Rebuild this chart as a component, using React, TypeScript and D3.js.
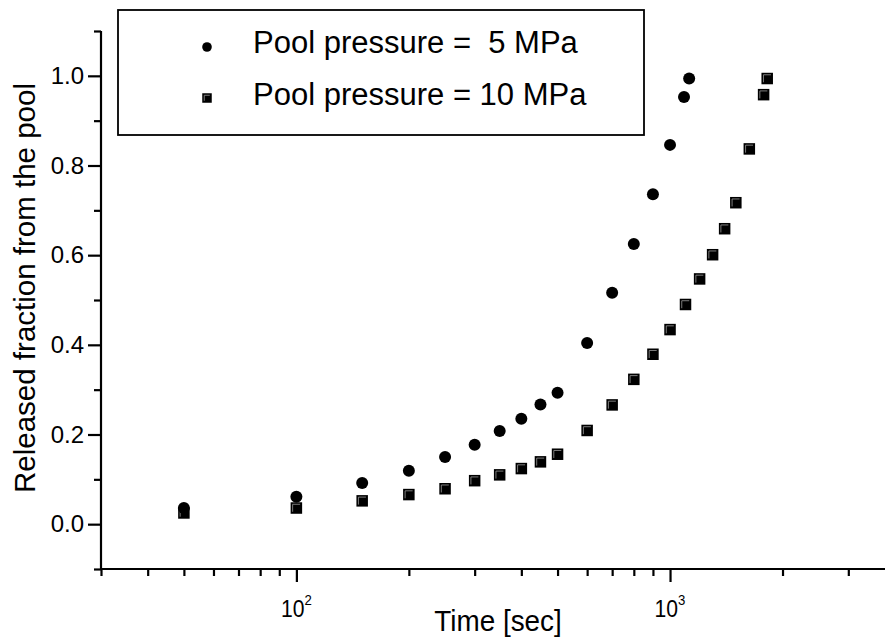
import React, { useEffect, useRef } from 'react';
import * as d3 from 'd3';

// Pool pressure = 5 MPa
const times5 = [50, 100, 150, 200, 250, 300, 350, 400, 450, 500, 600, 700, 800, 900, 1000, 1090, 1125];
const frac5 = [0.036, 0.061, 0.092, 0.119, 0.15, 0.177, 0.208, 0.235, 0.267, 0.293, 0.404, 0.516, 0.625, 0.736, 0.846, 0.953, 0.994];

// Pool pressure = 10 MPa
const times10 = [50, 100, 150, 200, 250, 300, 350, 400, 450, 500, 600, 700, 800, 900, 1000, 1100, 1200, 1300, 1400, 1500, 1630, 1780, 1820];
const frac10 = [0.025, 0.036, 0.052, 0.066, 0.079, 0.097, 0.11, 0.124, 0.139, 0.156, 0.209, 0.266, 0.323, 0.379, 0.434, 0.49, 0.547, 0.601, 0.659, 0.717, 0.837, 0.958, 0.994];

const legendLabels = ['Pool pressure =  5 MPa', 'Pool pressure = 10 MPa'];
const xMajor = [100, 1000];
const xMajorExp = ['2', '3'];
const xMinor = [30, 40, 50, 60, 70, 80, 90, 200, 300, 400, 500, 600, 700, 800, 900, 2000, 3000, 4000];
const yMajor = [0, 0.2, 0.4, 0.6, 0.8, 1.0];
const yMinor = [-0.1, 0.1, 0.3, 0.5, 0.7, 0.9, 1.1];

const SANS = '"Liberation Sans", Arial, sans-serif';

function App() {
  const svgRef = useRef<SVGSVGElement>(null);

  useEffect(() => {
    const svg = d3.select(svgRef.current);
    svg.selectAll('*').remove();

    const width = 885;
    const height = 640;
    svg.attr('width', width).attr('height', height);

    const x = d3.scaleLog().domain([30, 4000]).range([101, 895]);
    const y = d3.scaleLinear().domain([-0.1, 1.1]).range([569, 31]);

    const axisX0 = x.range()[0];
    const axisY0 = y.range()[0];

    // x axis
    const gx = svg.append('g').attr('transform', `translate(0,${axisY0})`);
    gx.call(d3.axisBottom(x).tickValues(xMinor).tickSize(7).tickSizeOuter(0).tickFormat(() => ''));
    gx.select('.domain').remove();
    const gx2 = svg.append('g').attr('transform', `translate(0,${axisY0})`);
    gx2.call(d3.axisBottom(x).tickValues(xMajor).tickSize(13).tickSizeOuter(0).tickFormat(() => ''));
    gx2.select('.domain').remove();

    svg.append('line')
      .attr('x1', axisX0 - 1).attr('x2', width)
      .attr('y1', axisY0).attr('y2', axisY0)
      .attr('stroke', '#000').attr('stroke-width', 2.2);

    xMajor.forEach((v, i) => {
      const t = svg.append('text')
        .attr('x', x(v))
        .attr('y', 617)
        .attr('text-anchor', 'middle')
        .style('font-family', SANS)
        .style('font-size', '24px')
        .attr('transform', `translate(${x(v)},0) scale(0.88,1) translate(${-x(v)},0)`);
      t.append('tspan').text('10');
      t.append('tspan').attr('dy', -12).style('font-size', '15px').text(xMajorExp[i]);
    });

    svg.append('text')
      .attr('x', 498)
      .attr('y', 631)
      .attr('text-anchor', 'middle')
      .style('font-family', SANS)
      .style('font-size', '30px')
      .attr('transform', 'translate(498,0) scale(0.93,1) translate(-498,0)')
      .text('Time [sec]');

    // y axis
    const gy = svg.append('g').attr('transform', `translate(${axisX0},0)`);
    gy.call(d3.axisLeft(y).tickValues(yMinor).tickSize(7).tickSizeOuter(0).tickFormat(() => ''));
    gy.select('.domain').remove();
    const gy2 = svg.append('g').attr('transform', `translate(${axisX0},0)`);
    gy2.call(d3.axisLeft(y).tickValues(yMajor).tickSize(13).tickSizeOuter(0).tickFormat(d3.format('.1f')));
    gy2.select('.domain').remove();
    gy2.selectAll('text')
      .attr('x', -17)
      .style('font-family', SANS)
      .style('font-size', '24px')
      .attr('fill', '#000');

    svg.selectAll('.tick line')
      .attr('stroke', '#000')
      .attr('stroke-width', 2.2);

    svg.append('line')
      .attr('x1', axisX0).attr('x2', axisX0)
      .attr('y1', y(1.1)).attr('y2', axisY0 + 1)
      .attr('stroke', '#000').attr('stroke-width', 2.2);

    svg.append('text')
      .attr('transform', 'translate(35,288) rotate(-90)')
      .attr('text-anchor', 'middle')
      .style('font-family', SANS)
      .style('font-size', '29.5px')
      .text('Released fraction from the pool');

    // square marker with a light inner edge
    const drawSquare = (g: any, cx: number, cy: number, s: number) => {
      g.append('rect')
        .attr('x', cx - s / 2).attr('y', cy - s / 2)
        .attr('width', s).attr('height', s)
        .attr('fill', '#000');
      const o = s / 2 - 2;
      g.append('path')
        .attr('d', `M${cx - o},${cy + o} V${cy - o} H${cx + o}`)
        .attr('fill', 'none')
        .attr('stroke', '#9a9a9a')
        .attr('stroke-width', 0.8);
    };

    // data: 10 MPa squares, then 5 MPa circles
    const sq = svg.append('g');
    times10.forEach((t, i) => drawSquare(sq, x(t), y(frac10[i]), 11.5));

    svg.append('g')
      .selectAll('circle')
      .data(times5)
      .enter()
      .append('circle')
      .attr('cx', (d) => x(d))
      .attr('cy', (d, i) => y(frac5[i]))
      .attr('r', 6)
      .attr('fill', '#000');

    // legend
    const lg = svg.append('g');
    lg.append('rect')
      .attr('x', 118).attr('y', 10)
      .attr('width', 526).attr('height', 125)
      .attr('fill', '#fff')
      .attr('stroke', '#000')
      .attr('stroke-width', 1.8);
    lg.append('circle').attr('cx', 207).attr('cy', 47).attr('r', 4.8).attr('fill', '#000');
    drawSquare(lg, 207, 98, 9.5);
    legendLabels.forEach((label, i) => {
      lg.append('text')
        .attr('x', 253)
        .attr('y', 53 + i * 52)
        .style('font-family', SANS)
        .style('font-size', '31px')
        .style('white-space', 'pre')
        .text(label);
    });
  }, []);

  return (
    <svg
      ref={svgRef}
      style={{ position: 'absolute', left: 0, top: 0, background: '#fff', display: 'block' }}
    ></svg>
  );
}

export default App;
